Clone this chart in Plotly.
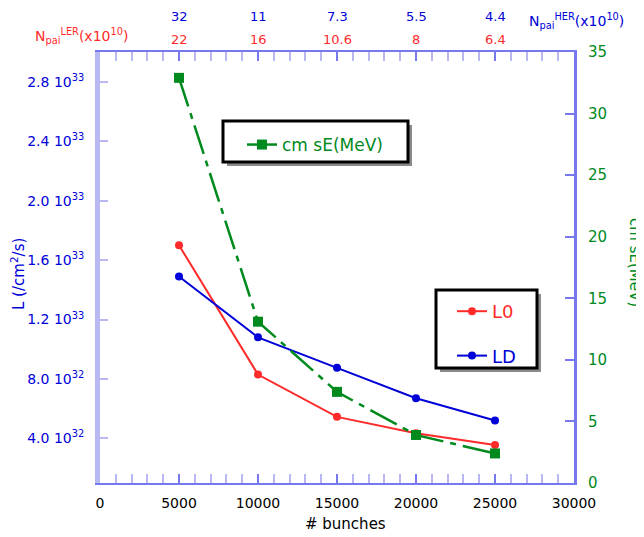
import plotly.graph_objects as go

# ---- data ----
bunches = [5000, 10000, 15000, 20000, 25000]
lum_L0 = [1.70e33, 0.83e33, 0.545e33, 0.435e33, 0.355e33]
lum_LD = [1.49e33, 1.08e33, 0.875e33, 0.67e33, 0.52e33]
dE_cm = [32.9, 13.1, 7.4, 3.9, 2.4]
n_her_labels = ["32", "11", "7.3", "5.5", "4.4"]
n_ler_labels = ["22", "16", "10.6", "8", "6.4"]
lum_tickvals = [0.4e33, 0.8e33, 1.2e33, 1.6e33, 2.0e33, 2.4e33, 2.8e33]
lum_ticktext = ["4.0 10<sup>32</sup>", "8.0 10<sup>32</sup>", "1.2 10<sup>33</sup>",
                "1.6 10<sup>33</sup>", "2.0 10<sup>33</sup>", "2.4 10<sup>33</sup>",
                "2.8 10<sup>33</sup>"]
x_tickvals = [0, 5000, 10000, 15000, 20000, 25000, 30000]
x_ticktext = ["0", "5000", "10000", "15000", "20000", "25000", "30000"]

FONT = "DejaVu Sans, Liberation Sans, Arial, sans-serif"
RED = "#ff2a2a"
BLUE = "#0000d8"
GREEN = "#008a1e"
AXIS = "#7878ee"
LIGHT = "#b8b8f2"

fig = go.Figure()
fig.add_trace(go.Scatter(x=bunches, y=dE_cm, yaxis="y2", mode="lines+markers",
                         name="cm sE(MeV)", legend="legend",
                         line=dict(color=GREEN, width=2.5, dash="30px,7px,6px,7px"),
                         marker=dict(symbol="square", size=10, color=GREEN)))
fig.add_trace(go.Scatter(x=bunches, y=lum_L0, mode="lines+markers",
                         name="<span style='color:%s'>L0</span>" % RED, legend="legend2",
                         legendgroup="a",
                         line=dict(color=RED, width=2), marker=dict(size=8, color=RED)))
fig.add_trace(go.Scatter(x=bunches, y=lum_LD, mode="lines+markers",
                         name="<span style='color:%s'>LD</span>" % BLUE, legend="legend2",
                         legendgroup="b",
                         line=dict(color=BLUE, width=2), marker=dict(size=8, color=BLUE)))

# page has an 8px body margin: figure is drawn from (8, 8)
OFF = 8
PAGE_W, PAGE_H = 644, 537
PL, PR, PT, PB = 100, 574, 52, 483          # plot area in page pixels
W, H = PAGE_W - OFF, PAGE_H - OFF
L, R, T, B = PL - OFF, PAGE_W - PR, PT - OFF, PAGE_H - PB
pw, ph = PR - PL, PB - PT

def px(x):
    return (x - PL) / pw

def py(y):
    return (PB - y) / ph

shapes = []
# legend boxes with shadows
for (x0, y0, x1, y1) in [(223, 121, 408, 162), (436, 290, 537, 368)]:
    shapes.append(dict(type="rect", xref="paper", yref="paper",
                       x0=px(x0 + 4), x1=px(x1 + 4), y0=py(y1 + 4), y1=py(y0 + 4),
                       fillcolor="#8a8a8a", line=dict(width=0), layer="above"))
    shapes.append(dict(type="rect", xref="paper", yref="paper",
                       x0=px(x0), x1=px(x1), y0=py(y1), y1=py(y0),
                       fillcolor="white", line=dict(color="black", width=3), layer="above"))

def ann(**kw):
    base = dict(showarrow=False, xanchor="center", yanchor="middle")
    base.update(kw)
    annotations.append(base)

annotations = []
for xv, t in zip(bunches, n_her_labels):
    ann(x=xv, y=py(17), xref="x", yref="paper", text=t,
        font=dict(color=BLUE, size=13, family=FONT))
for xv, t in zip(bunches, n_ler_labels):
    ann(x=xv, y=py(39), xref="x", yref="paper", text=t,
        font=dict(color=RED, size=13, family=FONT))
ann(x=px(33), y=py(36), xref="paper", yref="paper", xanchor="left",
    text="N<sub>pai</sub><sup>LER</sup>(x10<sup>10</sup>)",
    font=dict(color=RED, size=14, family=FONT))
ann(x=px(527), y=py(21), xref="paper", yref="paper", xanchor="left",
    text="N<sub>pai</sub><sup>HER</sup>(x10<sup>10</sup>)",
    font=dict(color=BLUE, size=14, family=FONT))
ann(x=px(635), y=py(262), xref="paper", yref="paper", textangle=90,
    text="cm sE(MeV)", font=dict(color=GREEN, size=15, family=FONT))
ann(x=px(18), y=py(274), xref="paper", yref="paper", textangle=-90,
    text="L (/cm<sup>2</sup>/s)", font=dict(color=BLUE, size=15, family=FONT))
ann(x=px(345), y=py(524), xref="paper", yref="paper",
    text="# bunches", font=dict(color="black", size=15, family=FONT))

fig.update_layout(
    width=W, height=H,
    margin=dict(l=L, r=R, t=T, b=B, autoexpand=False),
    paper_bgcolor="white", plot_bgcolor="white",
    font=dict(family=FONT),
    showlegend=True,
    legend=dict(x=px(242), y=py(127), xanchor="left", yanchor="top",
                bgcolor="rgba(0,0,0,0)", borderwidth=0,
                font=dict(color=GREEN, size=17, family=FONT)),
    legend2=dict(x=px(452), y=py(293), xanchor="left", yanchor="top",
                 bgcolor="rgba(0,0,0,0)", borderwidth=0, tracegroupgap=18,
                 font=dict(size=18, family=FONT)),
    xaxis=dict(range=[0, 30000], tickvals=x_tickvals, ticktext=x_ticktext, automargin=False,
               showgrid=False, zeroline=False, showline=True, linecolor=AXIS, linewidth=2,
               mirror="allticks", ticks="inside", ticklen=9, tickcolor=AXIS, tickwidth=2,
               minor=dict(dtick=1000, ticks="inside", ticklen=6, tickcolor=LIGHT, tickwidth=2),
               ticklabelstandoff=6,
               tickfont=dict(color="black", size=14, family=FONT)),
    yaxis=dict(range=[0.1e33, 3.0e33], tickvals=lum_tickvals, ticktext=lum_ticktext,
               automargin=False,
               showgrid=False, zeroline=False, showline=True, linecolor=LIGHT, linewidth=5,
               ticks="inside", ticklen=8, tickcolor=LIGHT, tickwidth=2,
               ticklabelstandoff=8,
               tickfont=dict(color=BLUE, size=14, family=FONT)),
    yaxis2=dict(range=[0, 35], dtick=5, overlaying="y", side="right", automargin=False,
                showgrid=False, zeroline=False, showline=True, linecolor=AXIS, linewidth=3,
                ticks="inside", ticklen=9, tickcolor=AXIS, tickwidth=2,
                ticklabelstandoff=8,
                tickfont=dict(color=GREEN, size=15, family=FONT)),
    shapes=shapes,
    annotations=annotations,
)

fig.write_html("out.html")
